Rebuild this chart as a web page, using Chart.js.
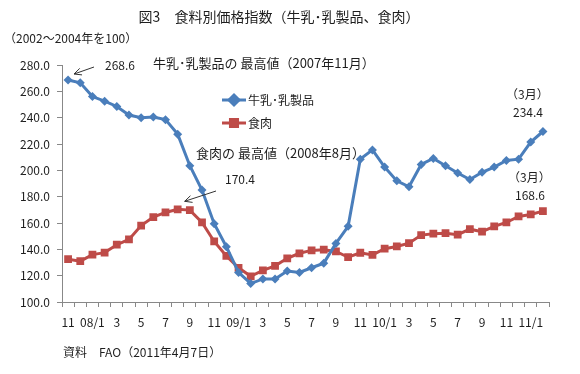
<!DOCTYPE html>
<html>
<head>
<meta charset="utf-8">
<script src="https://cdn.jsdelivr.net/npm/chart.js@4/dist/chart.umd.min.js"></script>
<style>
  html, body { margin: 0; padding: 0; background: #fff; }
  #wrap { width: 580px; height: 374px; position: relative; }
</style>
</head>
<body>
<div id="wrap"><canvas id="Chart" width="580" height="374"></canvas></div>
<script>
const JP_FONT = '"Noto Sans CJK JP", "Noto Sans", sans-serif';

// months: 2007/11 .. 2011/2
const MONTHS = ['11', '', '08/1', '', '3', '', '5', '', '7', '', '9', '', '11', '',
    '09/1', '', '3', '', '5', '', '7', '', '9', '', '11', '',
    '10/1', '', '3', '', '5', '', '7', '', '9', '', '11', '', '11/1', ''];

const MILK = [268.6, 266.5, 256.0, 252.5, 248.5, 242.0, 240.0, 240.5, 238.5, 227.5,
    203.5, 185.0, 159.5, 142.0, 122.5, 114.0, 117.5, 117.5, 123.5, 122.5,
    126.0, 129.5, 144.5, 157.5, 208.5, 215.5, 202.5, 192.0, 187.5, 204.5,
    209.0, 203.5, 198.0, 193.0, 198.5, 202.5, 207.5, 208.5, 221.5, 229.5];

const MEAT = [132.5, 131.0, 136.0, 137.5, 143.5, 147.5, 158.0, 164.5, 168.0, 170.4,
    169.8, 160.5, 146.0, 135.0, 126.0, 119.5, 124.0, 127.5, 133.2, 137.0,
    139.2, 139.7, 138.4, 134.0, 137.4, 135.8, 140.5, 142.2, 144.7, 150.8,
    151.9, 152.3, 151.1, 155.3, 153.4, 157.4, 160.4, 165.0, 166.5, 169.0];

const SERIES_NAMES = ['牛乳･乳製品', '食肉'];
const BLUE = '#4a7ebb';
const RED = '#be4b48';
const TEXT = '#1e1e1e';

const arrow = (ctx, x1, y1, x2, y2) => {
    const a = Math.atan2(y2 - y1, x2 - x1);
    ctx.beginPath();
    ctx.moveTo(x1, y1);
    ctx.lineTo(x2, y2);
    ctx.moveTo(x2 - 8 * Math.cos(a - 0.45), y2 - 8 * Math.sin(a - 0.45));
    ctx.lineTo(x2, y2);
    ctx.lineTo(x2 - 8 * Math.cos(a + 0.45), y2 - 8 * Math.sin(a + 0.45));
    ctx.stroke();
}

const decor = {
    id: 'decor',
    afterDraw(chart) {
        const ctx = chart.ctx;
        const xs = chart.scales.x, ys = chart.scales.y;
        ctx.save();
        ctx.fillStyle = TEXT;
        ctx.textBaseline = 'middle';

        ctx.font = '14px ' + JP_FONT;
        ctx.textAlign = 'center';
        ctx.fillText('図3　食料別価格指数（牛乳･乳製品、食肉）', 279, 17);

        ctx.textAlign = 'left';
        ctx.font = '12px ' + JP_FONT;
        ctx.fillText('（2002～2004年を100）', 4, 38);
        ctx.fillText('資料　FAO（2011年4月7日）', 63, 352);

        ctx.font = '13px ' + JP_FONT;
        ctx.fillText('牛乳･乳製品の 最高値（2007年11月）', 153, 63);
        ctx.fillText('食肉の 最高値（2008年8月）', 196, 153);

        ctx.font = '12px ' + JP_FONT;
        ctx.fillText('268.6', 105, 65);
        ctx.fillText('170.4', 225, 179);
        ctx.fillText('（3月）', 506, 94);
        ctx.fillText('234.4', 513, 112);
        ctx.fillText('（3月）', 508, 177);
        ctx.fillText('168.6', 515, 195);

        // arrows to the two peaks
        ctx.strokeStyle = '#333';
        ctx.lineWidth = 1;
        arrow(ctx, 94, 67, xs.getPixelForValue(0) + 6, ys.getPixelForValue(MILK[0]) - 6);
        arrow(ctx, 216, 191, xs.getPixelForValue(9) + 7, ys.getPixelForValue(MEAT[9]) - 8);

        // legend
        const items = [[BLUE, 'rectRot', 5], [RED, 'rect', 5]];
        items.forEach(([col, style, r], k) => {
            const y = 100 + k * 23;
            ctx.strokeStyle = col;
            ctx.lineWidth = 3;
            ctx.beginPath();
            ctx.moveTo(222, y);
            ctx.lineTo(246, y);
            ctx.stroke();
            Chart.helpers.drawPoint(ctx, {pointStyle: style, radius: r, borderWidth: 1}, 234, y);
            ctx.fillStyle = col;
            ctx.fill();
            ctx.fillStyle = TEXT;
            ctx.font = '12px ' + JP_FONT;
            ctx.fillText(SERIES_NAMES[k], 248, y);
        });
        ctx.restore();
    }
};

const data = {
    labels: MONTHS,
    datasets: [
        {
            label: SERIES_NAMES[0],
            data: MILK,
            borderColor: BLUE,
            backgroundColor: BLUE,
            borderWidth: 3,
            pointStyle: 'rectRot',
            pointRadius: 4.5,
            pointBorderWidth: 0,
            tension: 0,
        },
        {
            label: SERIES_NAMES[1],
            data: MEAT,
            borderColor: RED,
            backgroundColor: RED,
            borderWidth: 3,
            pointStyle: 'rect',
            pointRadius: 5.5,
            pointBorderWidth: 0,
            tension: 0,
        }]
};

const config = {
    type: 'line',
    data,
    options: {
        responsive: false,
        animation: false,
        devicePixelRatio: 1,
        layout: { padding: { left: 0, top: 65, right: 31, bottom: 0 } },
        scales: {
            x: {
                offset: true,
                grid: {
                    offset: true,
                    drawOnChartArea: false,
                    drawTicks: true,
                    tickLength: 5,
                    color: '#888',
                },
                border: { color: '#888' },
                ticks: {
                    autoSkip: false,
                    maxRotation: 0,
                    padding: 8,
                    color: TEXT,
                    font: { family: JP_FONT, size: 12 },
                },
                afterFit: (scale) => { scale.height = 72; }
            },
            y: {
                min: 100,
                max: 280,
                ticks: {
                    stepSize: 20,
                    padding: 7,
                    color: TEXT,
                    font: { family: JP_FONT, size: 12 },
                    callback: (v) => v.toFixed(1),
                },
                grid: {
                    drawOnChartArea: false,
                    tickLength: 5,
                    color: '#888',
                },
                border: { color: '#888' },
                afterFit: (scale) => { scale.width = 62; }
            }
        },
        plugins: {
            legend: { display: false },
            tooltip: { enabled: false },
        }
    },
    plugins: [decor]
};

const myChart = new Chart(document.getElementById('Chart'), config);
</script>
</body>
</html>
